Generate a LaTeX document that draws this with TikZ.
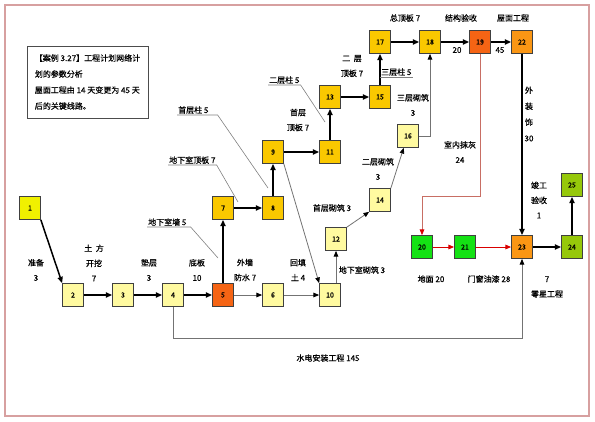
\documentclass[tikz,border=0pt]{standalone}
\usepackage{fontspec}
\setmainfont{Noto Sans CJK SC}[FakeBold=0.6]
\usepackage{xcolor}
\usepackage{tikz}
\usetikzlibrary{arrows.meta,positioning}

\definecolor{paleyel}{RGB}{255,250,160}
\definecolor{brightyel}{RGB}{240,240,0}
\definecolor{goldbox}{RGB}{250,200,0}
\definecolor{redorange}{RGB}{245,100,20}
\definecolor{orangebox}{RGB}{250,150,20}
\definecolor{greenbox}{RGB}{20,225,20}
\definecolor{limebox}{RGB}{150,200,10}
\definecolor{framepink}{RGB}{215,160,160}
\definecolor{pathred}{RGB}{200,110,100}

\begin{document}
\begin{tikzpicture}[x=1pt,y=-1pt,
  box/.style={draw=black!75,minimum width=21pt,minimum height=23pt,inner sep=0pt,font=\fontsize{7}{8}\selectfont,line width=0.7pt},
  lbl/.style={font=\fontsize{8}{15}\selectfont,align=center,inner sep=1pt},
  arr/.style={-{Triangle[length=2.2mm,width=1.8mm]},line width=1.5pt},
  arrs/.style={-{Triangle[length=2mm,width=1.6mm,color=black]},line width=0.8pt,draw=black!55},
  arrr/.style={-{Triangle[length=2mm,width=1.6mm]},line width=1pt,draw=red!85!black},
  arrp/.style={-{Triangle[length=2mm,width=1.6mm,color=red!85!black]},line width=0.8pt,draw=pathred},
  lead/.style={draw=black!50,line width=0.6pt}
]
\useasboundingbox (0,0) rectangle (595,421);
\draw[framepink,line width=1.5pt] (5,5) rectangle (589,416);

\node[draw=black!70,line width=1pt,align=left,minimum width=121pt,minimum height=72pt,font=\fontsize{8}{16}\selectfont] (info) at (87.5,82)
  {【案例 3.27】工程计划网络计\\划的参数分析\\屋面工程由 14 天变更为 45 天\\后的关键线路。};

\node[box,fill=brightyel] (n1) at (30,208) {1};
\node[box,fill=paleyel] (n2) at (73,295) {2};
\node[box,fill=paleyel] (n3) at (123,295) {3};
\node[box,fill=paleyel] (n4) at (173,295) {4};
\node[box,fill=redorange] (n5) at (223,295) {5};
\node[box,fill=paleyel] (n6) at (273,295) {6};
\node[box,fill=goldbox] (n7) at (223,208) {7};
\node[box,fill=goldbox] (n8) at (273,208) {8};
\node[box,fill=goldbox] (n9) at (273,152) {9};
\node[box,fill=paleyel] (n10) at (330,295) {10};
\node[box,fill=goldbox] (n11) at (330,152) {11};
\node[box,fill=paleyel] (n12) at (336,239) {12};
\node[box,fill=goldbox] (n13) at (330,97) {13};
\node[box,fill=paleyel] (n14) at (380,200) {14};
\node[box,fill=goldbox] (n15) at (380,97) {15};
\node[box,fill=paleyel] (n16) at (408,136) {16};
\node[box,fill=goldbox] (n17) at (380,42) {17};
\node[box,fill=goldbox] (n18) at (430,42) {18};
\node[box,fill=redorange] (n19) at (480,42) {19};
\node[box,fill=greenbox] (n20) at (422,247) {20};
\node[box,fill=greenbox] (n21) at (465,247) {21};
\node[box,fill=orangebox] (n22) at (522,42) {22};
\node[box,fill=orangebox] (n23) at (522,247) {23};
\node[box,fill=limebox] (n24) at (572,247) {24};
\node[box,fill=limebox] (n25) at (572,185) {25};

\draw[arr] (n1.south east) -- (n2.north west);
\draw[arr] (n2) -- (n3);
\draw[arr] (n3) -- (n4);
\draw[arr] (n4) -- (n5);
\draw[arrs] (n5) -- (n6);
\draw[arrs] (n6) -- (n10);
\draw[arr] (n5) -- (n7);
\draw[arr] (n7) -- (n8);
\draw[arr] (n8) -- (n9);
\draw[arrs] (n9.south east) -- (n10.north west);
\draw[arr] (n9) -- (n11);
\draw[arr] (n11) -- (n13);
\draw[arr] (n13) -- (n15);
\draw[arr] (n15) -- (n17);
\draw[arr] (n17) -- (n18);
\draw[arr] (n18) -- (n19);
\draw[arr] (n19) -- (n22);
\draw[arr] (n22) -- (n23);
\draw[arr] (n23) -- (n24);
\draw[arr] (n24) -- (n25);
\draw[arrs] (n12.south |- n10.north) -- (n12.south);
\draw[arrs] (n12.north east) -- (n14.south west);
\draw[arrs] (n14.north east) -- (n16.250);
\draw[arrs] (n16.east) -| (n18.south);
\draw[arrp] (n19.south) |- (n20.north |- 0,196) -- (n20.north);
\draw[arrr] (n20) -- (n21);
\draw[arrr] (n21) -- (n23);
\draw[arrs] (n4.south) |- (n23.south |- 0,338) -- (n23.south);

\node[lbl] (t12) at (36,270) {准备\\3};
\node[lbl] (t23) at (94,263) {土\ \ 方\\开挖\\7};
\node[lbl] (t34) at (149,270) {垫层\\3};
\node[lbl] (t45) at (197,270) {底板\\10};
\node[lbl] (t56) at (245,270) {外墙\\防水 7};
\node[lbl] (t610) at (298,270) {回填\\土 4};
\node[lbl] (t1113) at (298,120) {首层\\顶板 7};
\node[lbl] (t1315) at (352,66) {二\ \ 层\\顶板 7};
\node[lbl] (t1518) at (413,105) {三层砌筑\\3};
\node[lbl] (t1416) at (378,169) {二层砌筑\\3};
\node[lbl] (t1214) at (332,208) {首层砌筑 3};
\node[lbl] (t1012) at (362,270) {地下室砌筑 3};
\node[lbl] (t1718) at (405,18) {总顶板 7};
\node[lbl] (t1819) at (461,18) {结构验收};
\node[lbl] (d1819) at (457,50) {20};
\node[lbl] (t1922) at (513,18) {屋面工程};
\node[lbl] (d1922) at (500,50) {45};
\node[lbl] (t1920) at (460,152) {室内抹灰\\24};
\node[lbl,font=\fontsize{8}{16}\selectfont] (t2223) at (529,114) {外\\装\\饰\\30};
\node[lbl] (t2425) at (539,200) {竣工\\验收\\1};
\node[lbl] (t2021) at (431,279) {地面 20};
\node[lbl] (t2123) at (489,279) {门窗油漆 28};
\node[lbl] (t2324) at (547,287) {7\\零星工程};
\node[lbl] (t423) at (328,358) {水电安装工程 145};

\node[lbl,anchor=south west] (l57) at (147,227) {地下室墙 5};
\node[lbl,anchor=south west] (l78) at (168,165) {地下室顶板 7};
\node[lbl,anchor=south west] (l89) at (177,115) {首层柱 5};
\node[lbl,anchor=south west] (l1113) at (268,85) {二层柱 5};
\node[lbl,anchor=south west] (l1517) at (380,77) {三层柱 5};
\coordinate (e57) at (218,258);
\coordinate (e78) at (238,202);
\coordinate (e89) at (268,188);
\coordinate (e1113) at (325,122);
\draw[lead] (l57.south west) -- ([xshift=3pt]l57.south east) -- (e57);
\draw[lead] (l78.south west) -- (l78.south east) -- (e78);
\draw[lead] (l89.south west) -- ([xshift=8pt]l89.south east) -- (e89);
\draw[lead] (l1113.south west) -- (l1113.south east) -- (e1113);
\draw[lead] (l1517.south west) -- (l1517.south east);

\end{tikzpicture}
\end{document}
